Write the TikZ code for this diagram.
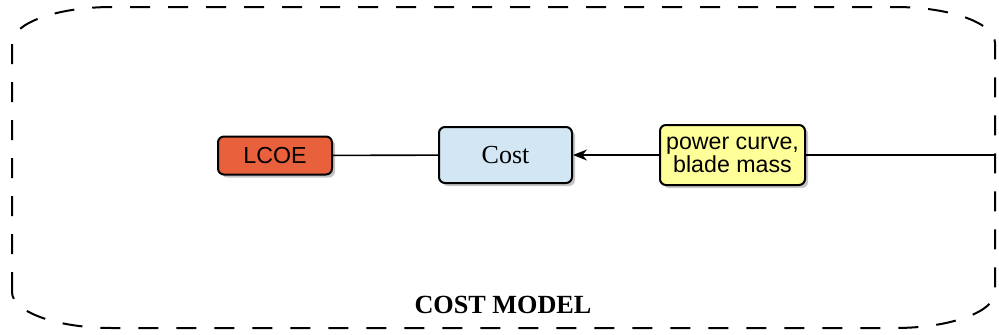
\documentclass[tikz,border=0pt]{standalone}
\usepackage{fontspec}
\setmainfont{Liberation Serif}
\setsansfont{Liberation Sans}
\usetikzlibrary{shadows,arrows.meta}
\definecolor{lcoered}{HTML}{E8603C}
\definecolor{costblue}{HTML}{D2E6F3}
\definecolor{outyellow}{HTML}{FFFF9A}
\tikzset{
	box/.style={draw=black, line width=1pt, rounded corners=3pt, inner sep=0pt, align=center,
		drop shadow={shadow xshift=1.5pt, shadow yshift=-1.5pt, fill=black!45}},
	link/.style={line width=0.8pt},
}
\begin{document}
\begin{tikzpicture}[line join = round, >={Stealth[length=7pt,width=5.5pt]}, x=0.5pt, y=0.5pt]
	\useasboundingbox (0,0) rectangle (999,334);
	% dashed frame of the model
	\draw[line width=1pt, dash pattern=on 10pt off 9pt]
	(12,42) -- (12,291) arc[start angle=180, end angle=90, x radius=100, y radius=36]
	-- (895,327) arc[start angle=90, end angle=0, x radius=100, y radius=36]
	-- (995,42) arc[start angle=0, end angle=-90, x radius=100, y radius=36]
	-- (112,6) arc[start angle=270, end angle=180, x radius=100, y radius=36] -- cycle;
	\node[box, fill=lcoered, font=\sffamily\fontsize{11.6}{13}\selectfont,
		minimum width=57pt, minimum height=19pt] (lcoe) at (275,178.5) {LCOE};
	\node[box, fill=costblue, font=\fontsize{13}{15}\selectfont,
		minimum width=66.5pt, minimum height=28pt] (cost) at (505.5,179) {Cost};
	\node[box, fill=outyellow, font=\sffamily\fontsize{11.6}{11.6}\selectfont,
		minimum width=72.5pt, minimum height=30pt] (power) at (732.5,179) {power curve,\\blade mass};
	\coordinate (frame) at (995,179);
	\draw[link] (lcoe) -- (cost);
	\draw[link,->] (power) -- (cost);
	\draw[link] (power) -- (frame);
	\node[font=\bfseries\fontsize{13.1}{15}\selectfont] (title) at (503,29) {COST MODEL};
\end{tikzpicture}
\end{document}
